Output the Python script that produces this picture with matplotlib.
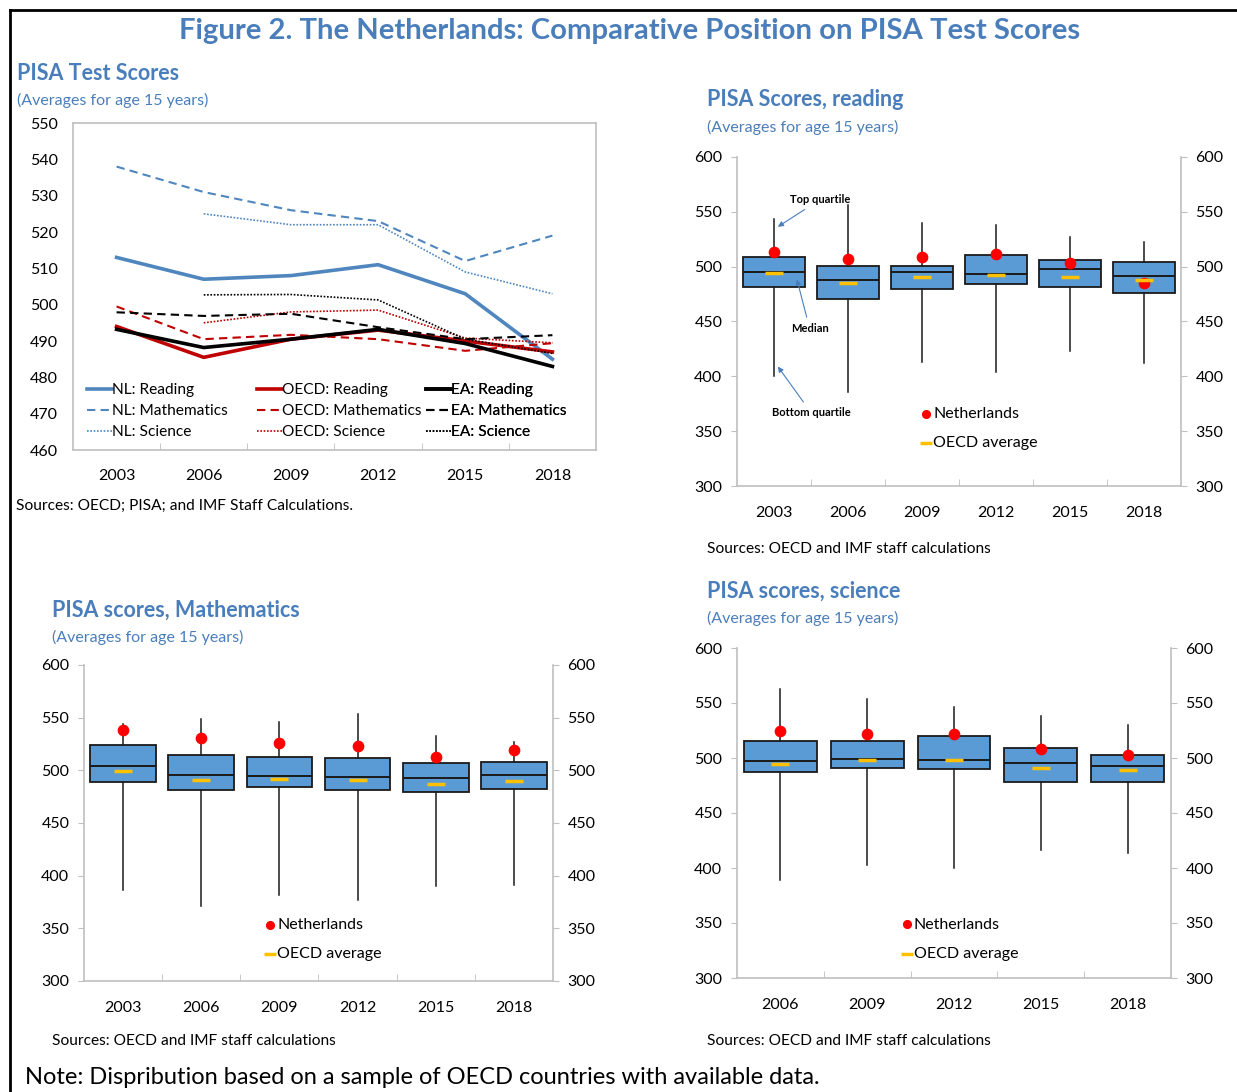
import numpy as np
import matplotlib
matplotlib.use('Agg')
import matplotlib.pyplot as plt
from matplotlib.lines import Line2D

plt.rcParams['font.family'] = ['Lato', 'DejaVu Sans']

BLUE = '#4A7EBB'
BOXC = '#5B9BD5'

# ---- line chart data (top left)
years = ['2003', '2006', '2009', '2012', '2015', '2018']
nl_read = [513, 507, 508, 511, 503, 485]
nl_math = [538, 531, 526, 523, 512, 519]
nl_sci = [np.nan, 525, 522, 522, 509, 503]
oecd_read = [494, 485.5, 490.5, 493, 490, 487]
oecd_math = [499.5, 490.5, 491.7, 490.5, 487.3, 489.4]
oecd_sci = [np.nan, 495, 498, 498.5, 490.8, 489.5]
ea_read = [493.2, 488.2, 490.5, 493.2, 489.3, 483]
ea_math = [497.9, 496.9, 497.5, 493.8, 490.5, 491.6]
ea_sci = [np.nan, 502.7, 502.8, 501.3, 490.5, 486.6]

# ---- reading box data
rd_years = ['2003', '2006', '2009', '2012', '2015', '2018']
rd_q3 = [508.6, 500.9, 500.9, 510.7, 505.8, 504]
rd_q1 = [481.8, 470.6, 479.4, 484, 481.8, 476.3]
rd_med = [494.9, 487.9, 494.9, 493.1, 497.6, 491.8]
rd_hi = [543.5, 556.2, 539.5, 538, 526.8, 522.8]
rd_lo = [400, 385.8, 413.4, 403.7, 423.4, 412.5]
rd_oecd = [494.3, 485.4, 490.3, 492.6, 490.3, 487.9]
rd_nl = [513.7, 507, 508.8, 511.6, 503.4, 484.9]

# ---- mathematics box data
mt_years = ['2003', '2006', '2009', '2012', '2015', '2018']
mt_q3 = [523.7, 514.3, 512.4, 511.4, 506.7, 507.9]
mt_q1 = [488.9, 481.6, 484.2, 481.6, 479.4, 482]
mt_med = [504.1, 495.3, 494.3, 493.4, 492.4, 495.9]
mt_hi = [544, 548.4, 545.9, 553.5, 532.6, 526.6]
mt_lo = [386.4, 371.2, 381.6, 376.9, 390, 391]
mt_oecd = [499.1, 490.5, 491.5, 490.5, 486.7, 489.6]
mt_nl = [538, 531, 526, 522.8, 512.4, 519.3]

# ---- science box data
sc_years = ['2006', '2009', '2012', '2015', '2018']
sc_q3 = [515.2, 515.8, 519.7, 508.8, 503]
sc_q1 = [487, 490.6, 489.7, 477.9, 477.9]
sc_med = [497, 499.4, 498.5, 495.5, 492.5]
sc_hi = [562.7, 553.3, 546.1, 538.2, 530]
sc_lo = [389, 402.7, 400, 416.4, 413.6]
sc_oecd = [494.3, 497.9, 497.9, 490.6, 488.8]
sc_nl = [524.8, 522.1, 522.1, 508.5, 503]

W, H = 1237, 1092
fig = plt.figure(figsize=(W / 100, H / 100), dpi=100)


def fx(px):
    return px / W


def fy(py):
    return 1 - py / H


def axes_px(l, t, r, b):
    return fig.add_axes([fx(l), fy(b), (r - l) / W, (b - t) / H])


# frame of the figure
fig.add_artist(Line2D([fx(10), 1], [fy(10), fy(10)], color='black', lw=2))
fig.add_artist(Line2D([fx(10), fx(10)], [fy(10), 0], color='black', lw=2))

fig.text(fx(630), fy(31), 'Figure 2. The Netherlands: Comparative Position on PISA Test Scores',
         ha='center', va='center', fontsize=21.1, fontweight='bold', color=BLUE)


def heading(x, y, title, sub):
    fig.text(fx(x), fy(y), title, ha='left', va='center', fontsize=15.5,
             fontweight='bold', color=BLUE)
    fig.text(fx(x), fy(y + 27), sub, ha='left', va='center', fontsize=11.5, color=BLUE)


# ---------------- top left line chart
ax = axes_px(73, 123, 596, 450)
xs = np.arange(len(years))
groups = [
    [ax.plot(xs, nl_read, color='#4F86BE', lw=2.6, label='NL: Reading')[0],
     ax.plot(xs, nl_math, color='#4F86BE', lw=1.5, ls=(0, (4, 2.5)), label='NL: Mathematics')[0],
     ax.plot(xs, nl_sci, color='#4F86BE', lw=1.2, ls=(0, (1, 1)), label='NL: Science')[0]],
    [ax.plot(xs, oecd_read, color='#C00000', lw=2.6, label='OECD: Reading')[0],
     ax.plot(xs, oecd_math, color='#C00000', lw=1.5, ls=(0, (4, 2.5)), label='OECD: Mathematics')[0],
     ax.plot(xs, oecd_sci, color='#C00000', lw=1.2, ls=(0, (1, 1)), label='OECD: Science')[0]],
    [ax.plot(xs, ea_read, color='black', lw=2.6, label='EA: Reading')[0],
     ax.plot(xs, ea_math, color='black', lw=1.5, ls=(0, (4, 2.5)), label='EA: Mathematics')[0],
     ax.plot(xs, ea_sci, color='black', lw=1.2, ls=(0, (1, 1)), label='EA: Science')[0]],
]
ax.set_xlim(-0.5, 5.5)
ax.set_ylim(460, 550)
ax.set_yticks(np.arange(460, 551, 10))
ax.set_xticks(xs)
ax.set_xticklabels(years)
ax.set_xticks(np.arange(0.5, 5, 1), minor=True)
ax.tick_params(axis='x', which='major', length=0, pad=14, labelsize=11.5)
ax.tick_params(axis='x', which='minor', length=5, direction='in', color='#BFBFBF')
ax.tick_params(axis='y', length=0, pad=11, labelsize=11.5)
for s in ax.spines.values():
    s.set_color('#BFBFBF')
    s.set_linewidth(1.2)
# one legend per column, columns of equal width
for k, (grp, x0) in enumerate(zip(groups, [86, 256, 425])):
    lg = ax.legend(grp, [h.get_label() for h in grp], loc='lower left',
                   bbox_to_anchor=((x0 - 73 - 7) / 523, 0.01), frameon=False,
                   fontsize=11.2, handlelength=1.65, handletextpad=0.0,
                   labelspacing=0.45, borderpad=0)
    ax.add_artist(lg)
heading(17, 73, 'PISA Test Scores', '(Averages for age 15 years)')
fig.text(fx(16), fy(506), 'Sources: OECD; PISA; and IMF Staff Calculations.',
         ha='left', va='center', fontsize=11.2)


# ---------------- box charts
def box_panel(rect, cats, q1, q3, med, lo, hi, oecd, nl, legend_pos):
    bx = axes_px(*rect)
    n = len(cats)
    stats = []
    for i in range(n):
        stats.append({'med': med[i], 'q1': q1[i], 'q3': q3[i],
                      'whislo': lo[i], 'whishi': hi[i], 'fliers': []})
    pos = np.arange(n)
    bx.bxp(stats, positions=pos, widths=0.84, showcaps=False, showfliers=False,
           patch_artist=True,
           boxprops=dict(facecolor=BOXC, edgecolor='#1a1a1a', linewidth=1.3),
           medianprops=dict(color='#1a1a1a', linewidth=1.4),
           whiskerprops=dict(color='#1a1a1a', linewidth=1.1), zorder=2)
    bx.scatter(pos, nl, s=55, color='#FF0000', zorder=4, label='Netherlands')
    bx.scatter(pos, oecd, s=150, marker='_', color='#FFC000', linewidths=2.5,
               zorder=5, label='OECD average')
    bx.set_xlim(-0.5, n - 0.5)
    bx.set_ylim(300, 600)
    bx.set_yticks(np.arange(300, 601, 50))
    bx.set_xticks(pos)
    bx.set_xticklabels(cats)
    bx.set_xticks(np.arange(0.5, n - 1, 1), minor=True)
    bx.tick_params(axis='x', which='major', length=0, pad=14.5, labelsize=11.5)
    bx.tick_params(axis='x', which='minor', length=5, direction='in', color='#BFBFBF')
    bx.tick_params(axis='y', length=4, direction='out', color='#BFBFBF', pad=6.5,
                   labelsize=11.5, right=True, labelright=True)
    for s in bx.spines.values():
        s.set_color('#BFBFBF')
        s.set_linewidth(1.2)
    bx.spines['top'].set_visible(False)
    bx.legend(loc='upper left', bbox_to_anchor=legend_pos, frameon=False,
              fontsize=11.5, handlelength=0.6, handletextpad=0.12,
              labelspacing=0.95, borderpad=0, markerscale=0.75)
    return bx


br = box_panel((737, 157, 1181, 486), rd_years, rd_q1, rd_q3, rd_med, rd_lo, rd_hi,
               rd_oecd, rd_nl, (0.398, 0.265))
akw = dict(arrowprops=dict(arrowstyle='-|>', color=BLUE, lw=0.8, mutation_scale=8),
           fontsize=8, fontweight='bold', ha='center', va='center')
br.annotate('Top quartile', xy=(0.02, 535), xytext=(0.62, 561), **akw)
br.annotate('Median', xy=(0.3, 491), xytext=(0.48, 444), **akw)
br.annotate('Bottom quartile', xy=(0.03, 411), xytext=(0.5, 367), **akw)
heading(707, 100, 'PISA Scores, reading', '(Averages for age 15 years)')
fig.text(fx(707), fy(549), 'Sources: OECD and IMF staff calculations',
         ha='left', va='center', fontsize=11.2)

box_panel((84, 665, 553, 981), mt_years, mt_q1, mt_q3, mt_med, mt_lo, mt_hi,
          mt_oecd, mt_nl, (0.37, 0.226))
heading(52, 610, 'PISA scores, Mathematics', '(Averages for age 15 years)')
fig.text(fx(52), fy(1041), 'Sources: OECD and IMF staff calculations',
         ha='left', va='center', fontsize=11.2)

box_panel((737, 648, 1171, 978), sc_years, sc_q1, sc_q3, sc_med, sc_lo, sc_hi,
          sc_oecd, sc_nl, (0.362, 0.208))
heading(707, 591, 'PISA scores, science', '(Averages for age 15 years)')
fig.text(fx(707), fy(1041), 'Sources: OECD and IMF staff calculations',
         ha='left', va='center', fontsize=11.2)

fig.text(fx(25), fy(1077), 'Note: Dispribution based on a sample of OECD countries with available data.',
         ha='left', va='center', fontsize=17)

fig.savefig('out.png', dpi=100)
